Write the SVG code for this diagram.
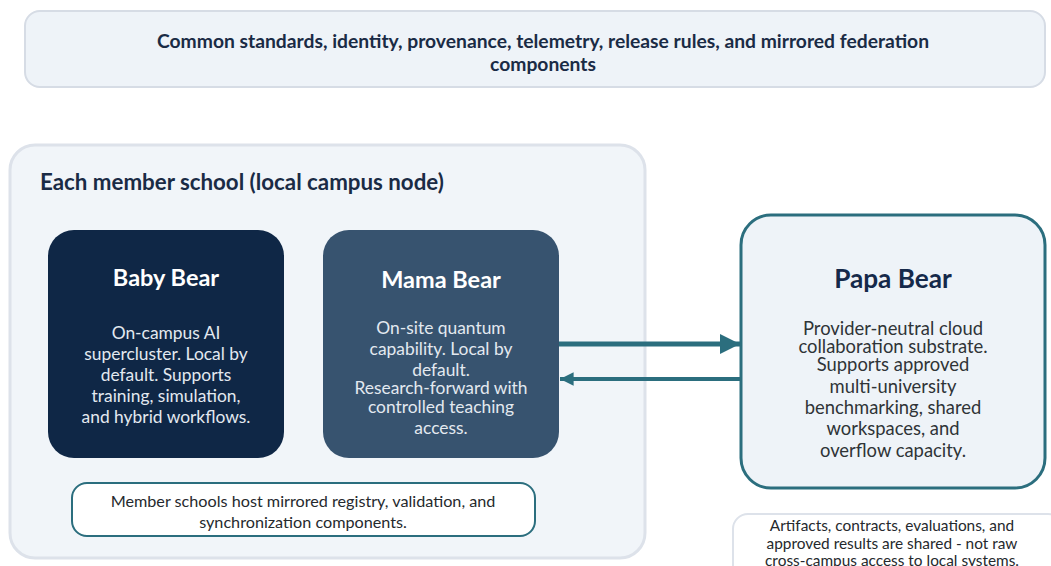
<svg xmlns="http://www.w3.org/2000/svg" width="1051" height="566" viewBox="0 0 1051 566">
  <defs>
    <marker id="headBig" viewBox="0 0 10 10" refX="10" refY="5" markerWidth="4" markerHeight="4.2" markerUnits="strokeWidth" orient="auto">
      <path d="M0,0 L10,5 L0,10 Z" fill="#2b6e7e"/>
    </marker>
    <marker id="headSmall" viewBox="0 0 10 10" refX="10" refY="5" markerWidth="3.4" markerHeight="4" markerUnits="strokeWidth" orient="auto">
      <path d="M0,0 L10,5 L0,10 Z" fill="#2b6e7e"/>
    </marker>
  </defs>
  <style>
    text { font-family: Lato, "Liberation Sans", sans-serif; text-anchor: middle; }
    .banner { font-size: 19.3px; font-weight: 700; fill: #1a2b45; }
    .group-title { font-size: 22.3px; font-weight: 700; fill: #1a2b45; text-anchor: start; }
    .dark-title { font-size: 23.5px; font-weight: 700; fill: #ffffff; }
    .dark-body { font-size: 17.4px; fill: #e3e9f0; }
    .light-title { font-size: 26.2px; font-weight: 700; fill: #15294a; }
    .light-body { font-size: 18.4px; fill: #2f3437; }
    .note { font-size: 16.2px; fill: #25292d; }
    .note-small { font-size: 15.4px; fill: #25292d; }
    .conn { fill: none; stroke: #2b6e7e; }
  </style>
  <rect width="1051" height="566" fill="#ffffff"/>

  <!-- shared federation layer banner -->
  <g id="federation-banner">
    <rect x="25" y="11" width="1020" height="76" rx="15" fill="#eef3f8" stroke="#d6dce5" stroke-width="2"/>
    <text class="banner" x="543" y="48">Common standards, identity, provenance, telemetry, release rules, and mirrored federation</text>
    <text class="banner" x="543" y="71">components</text>
  </g>

  <!-- local campus container -->
  <g id="member-school">
    <rect x="10" y="145" width="635" height="413" rx="25" fill="#f1f5f9" stroke="#dde2ea" stroke-width="3"/>
    <text class="group-title" x="40" y="190">Each member school (local campus node)</text>
  </g>

  <g id="baby-bear">
    <rect x="48" y="230" width="236" height="228" rx="26" fill="#0f2746"/>
    <text class="dark-title" x="166" y="286">Baby Bear</text>
    <text class="dark-body" x="166" y="339">On-campus AI</text>
    <text class="dark-body" x="166" y="360">supercluster. Local by</text>
    <text class="dark-body" x="166" y="381">default. Supports</text>
    <text class="dark-body" x="166" y="402">training, simulation,</text>
    <text class="dark-body" x="166" y="423">and hybrid workflows.</text>
  </g>

  <g id="mama-bear">
    <rect x="323" y="230" width="236" height="228" rx="26" fill="#37536f"/>
    <text class="dark-title" x="441" y="288">Mama Bear</text>
    <text class="dark-body" x="441" y="334">On-site quantum</text>
    <text class="dark-body" x="441" y="355">capability. Local by</text>
    <text class="dark-body" x="441" y="376">default.</text>
    <text class="dark-body" x="441" y="394">Research-forward with</text>
    <text class="dark-body" x="441" y="413">controlled teaching</text>
    <text class="dark-body" x="441" y="434">access.</text>
  </g>

  <g id="mirror-note">
    <rect x="72" y="483" width="463" height="53" rx="15" fill="#ffffff" stroke="#2b6e7e" stroke-width="2"/>
    <text class="note" x="303" y="507">Member schools host mirrored registry, validation, and</text>
    <text class="note" x="303" y="528">synchronization components.</text>
  </g>

  <g id="papa-bear">
    <rect x="741" y="215" width="304" height="273" rx="30" fill="#eef3f8" stroke="#2b6e7e" stroke-width="3"/>
    <text class="light-title" x="893" y="288">Papa Bear</text>
    <text class="light-body" x="893" y="335">Provider-neutral cloud</text>
    <text class="light-body" x="893" y="353">collaboration substrate.</text>
    <text class="light-body" x="893" y="371">Supports approved</text>
    <text class="light-body" x="893" y="393">multi-university</text>
    <text class="light-body" x="893" y="414">benchmarking, shared</text>
    <text class="light-body" x="893" y="435">workspaces, and</text>
    <text class="light-body" x="893" y="457">overflow capacity.</text>
  </g>

  <g id="sharing-note">
    <rect x="733" y="514" width="330" height="70" rx="15" fill="#ffffff" stroke="#dde2ea" stroke-width="2"/>
    <text class="note-small" x="892" y="531">Artifacts, contracts, evaluations, and</text>
    <text class="note-small" x="892" y="549">approved results are shared - not raw</text>
    <text class="note-small" x="892" y="566">cross-campus access to local systems.</text>
  </g>

  <!-- connectors between campus and cloud -->
  <g id="connectors">
    <line class="conn" x1="559" y1="344" x2="740" y2="344" stroke-width="5" marker-end="url(#headBig)"/>
    <line class="conn" x1="741" y1="379" x2="560" y2="379" stroke-width="4" marker-end="url(#headSmall)"/>
  </g>
</svg>
